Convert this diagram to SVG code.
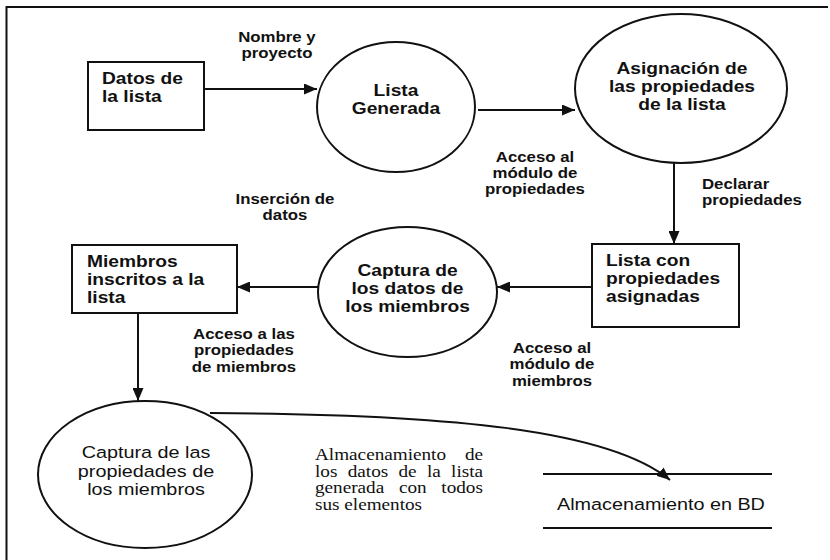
<svg xmlns="http://www.w3.org/2000/svg" width="830" height="560" viewBox="0 0 830 560">
<style>
.shape{fill:none;stroke:#111;stroke-width:2}
.conn{fill:none;stroke:#111;stroke-width:2}
.nb{font-family:"Liberation Sans",Arial,sans-serif;font-weight:bold;font-size:16px;fill:#111}
.nr{font-family:"Liberation Sans",Arial,sans-serif;font-size:16.5px;fill:#111}
.lb{font-family:"Liberation Sans",Arial,sans-serif;font-weight:bold;font-size:14px;fill:#111}
.sf{font-family:"Liberation Serif","Times New Roman",serif;font-size:16px;fill:#111}
.c{text-anchor:middle}
</style>
<defs>
<marker id="ah" markerWidth="13" markerHeight="11" refX="13" refY="5.5" orient="auto" markerUnits="userSpaceOnUse">
<path d="M0,0 L13,5.5 L0,11 z" fill="#111"/>
</marker>
</defs>
<rect width="830" height="560" fill="#fff"/>
<g id="frame">
<line x1="6" y1="7" x2="828" y2="7" class="shape"/>
<line x1="6.5" y1="6" x2="6.5" y2="560" class="shape"/>
</g>
<g id="connectors">
<line x1="204" y1="89" x2="317" y2="89" class="conn" marker-end="url(#ah)"/>
<line x1="478" y1="110" x2="575" y2="110" class="conn" marker-end="url(#ah)"/>
<line x1="674" y1="163" x2="674" y2="244" class="conn" marker-end="url(#ah)"/>
<line x1="592" y1="287" x2="497" y2="287" class="conn" marker-end="url(#ah)"/>
<line x1="318" y1="287" x2="237" y2="287" class="conn" marker-end="url(#ah)"/>
<line x1="138" y1="313" x2="138" y2="401" class="conn" marker-end="url(#ah)"/>
<path d="M210,413 C450,414 610,430 670,480" class="conn" marker-end="url(#ah)"/>
</g>
<g id="labels">
<text class="lb c" transform="scale(1.2 1)"><tspan x="230.8" y="42">Nombre y</tspan><tspan x="230.8" y="58">proyecto</tspan></text>
<text class="lb c" transform="scale(1.2 1)"><tspan x="237.5" y="204">Inserción de</tspan><tspan x="237.5" y="220">datos</tspan></text>
<text class="lb c" transform="scale(1.2 1)"><tspan x="445.8" y="162">Acceso al</tspan><tspan x="445.8" y="178">módulo de</tspan><tspan x="445.8" y="194">propiedades</tspan></text>
<text class="lb" transform="scale(1.2 1)"><tspan x="585" y="189">Declarar</tspan><tspan x="585" y="205">propiedades</tspan></text>
<text class="lb c" transform="scale(1.2 1)"><tspan x="203.3" y="339">Acceso a las</tspan><tspan x="203.3" y="355.5">propiedades</tspan><tspan x="203.3" y="372">de miembros</tspan></text>
<text class="lb c" transform="scale(1.2 1)"><tspan x="460" y="353">Acceso al</tspan><tspan x="460" y="369.5">módulo de</tspan><tspan x="460" y="386">miembros</tspan></text>
<text class="sf" transform="scale(1.2 1)"><tspan x="262.5" y="460">Almacenamiento</tspan><tspan x="387.5" y="460">de</tspan><tspan x="262.5" y="477">los</tspan><tspan x="289.75" y="477">datos</tspan><tspan x="332.1" y="477">de</tspan><tspan x="355.75" y="477">la</tspan><tspan x="375.9" y="477">lista</tspan><tspan x="262.5" y="493.5">generada</tspan><tspan x="332.5" y="493.5">con</tspan><tspan x="367.8" y="493.5">todos</tspan><tspan x="262.5" y="510">sus elementos</tspan></text>
</g>
<g id="datos_lista">
<rect x="88" y="62" width="116" height="68" class="shape"/>
<text class="nb" transform="scale(1.2 1)"><tspan x="85" y="84">Datos de</tspan><tspan x="85" y="102">la lista</tspan></text>
</g>
<g id="lista_generada">
<ellipse cx="396" cy="107" rx="79" ry="65" class="shape"/>
<text class="nb c" transform="scale(1.2 1)"><tspan x="330" y="96">Lista</tspan><tspan x="330" y="114">Generada</tspan></text>
</g>
<g id="asignacion">
<ellipse cx="681" cy="88.5" rx="106" ry="74.5" class="shape"/>
<text class="nb c" transform="scale(1.2 1)"><tspan x="568.3" y="74">Asignación de</tspan><tspan x="568.3" y="92">las propiedades</tspan><tspan x="568.3" y="110">de la lista</tspan></text>
</g>
<g id="lista_con_propiedades">
<rect x="592" y="244" width="147" height="83" class="shape"/>
<text class="nb" transform="scale(1.2 1)"><tspan x="505" y="266">Lista con</tspan><tspan x="505" y="284">propiedades</tspan><tspan x="505" y="302">asignadas</tspan></text>
</g>
<g id="captura_datos">
<ellipse cx="407.5" cy="292" rx="89.5" ry="65" class="shape"/>
<text class="nb c" transform="scale(1.2 1)"><tspan x="339.6" y="276">Captura de</tspan><tspan x="339.6" y="294">los datos de</tspan><tspan x="339.6" y="312">los miembros</tspan></text>
</g>
<g id="miembros_inscritos">
<rect x="72" y="245" width="165" height="68" class="shape"/>
<text class="nb" transform="scale(1.2 1)"><tspan x="72.5" y="267">Miembros</tspan><tspan x="72.5" y="285">inscritos a la</tspan><tspan x="72.5" y="303">lista</tspan></text>
</g>
<g id="captura_propiedades">
<ellipse cx="145" cy="474.5" rx="107" ry="73.5" class="shape"/>
<text class="nr c" transform="scale(1.2 1)"><tspan x="121.7" y="458">Captura de las</tspan><tspan x="121.7" y="477">propiedades de</tspan><tspan x="121.7" y="495">los miembros</tspan></text>
</g>
<g id="almacenamiento_bd">
<line x1="543" y1="474" x2="772" y2="474" class="shape"/>
<line x1="543" y1="528" x2="772" y2="528" class="shape"/>
<text class="nr c" transform="scale(1.2 1)" x="550.8" y="510">Almacenamiento en BD</text>
</g>
</svg>
